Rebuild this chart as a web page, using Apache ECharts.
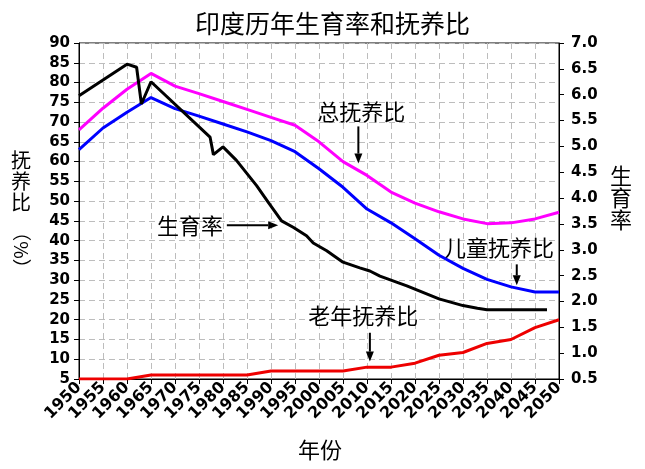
<!DOCTYPE html>
<html>
<head>
<meta charset="utf-8">
<script src="https://cdn.jsdelivr.net/npm/echarts@6/dist/echarts.min.js"></script>
<style>
html,body{margin:0;padding:0;background:#fff;}
#c{width:645px;height:469px;}
</style>
</head>
<body>
<div id="c"></div>
<script>
// ---- data ----
const years = [1950,1955,1960,1965,1970,1975,1980,1985,1990,1995,2000,2005,2010,2015,2020,2025,2030,2035,2040,2045,2050];
const totalDep = [68,73.5,78.3,82.3,79.1,77.2,75.2,73.2,71.2,69.2,65,60,56.5,52.3,49.5,47.3,45.5,44.3,44.5,45.5,47.2];
const childDep = [63,68.5,72.5,76.2,73.4,71.5,69.5,67.5,65.3,62.5,58.2,53.5,48,44.5,40.5,36.3,33,30.2,28.3,27,27];
const oldDep   = [5,5,5,6,6,6,6,6,7,7,7,7,8,8,9,11,11.7,14,15,18,20];
const fertYears  = [1950,1960,1962,1963,1965,1977.3,1978,1980,1982.8,1987,1989.4,1992.2,1994.7,1997.4,1998.8,2001.6,2005,2008.5,2010.6,2012.7,2018.3,2025,2030,2033,2035,2047.5];
const fertValues = [5.98,6.59,6.53,5.82,6.25,5.18,4.84,4.99,4.73,4.24,3.92,3.56,3.43,3.27,3.13,2.98,2.76,2.65,2.59,2.49,2.30,2.05,1.92,1.87,1.84,1.84];
const titleText = '印度历年生育率和抚养比';
const notes = [
  {text:'总抚养比',   pos:[2008.8,72.7], from:[2008.2,68.9], to:[2008.2,59.5]},
  {text:'生育率',     pos:[1973.1,43.9], from:[1980.8,43.9], to:[1991.5,43.9]},
  {text:'儿童抚养比', pos:[2037.5,38.3], from:[2041.2,34.0], to:[2041.2,28.7]},
  {text:'老年抚养比', pos:[2009.2,21.0], from:[2010.6,16.7], to:[2010.6,9.4]}
];

const pair = (xs, ys) => xs.map((x,i)=>[x, ys[i]]);
const numFont = {fontFamily:'DejaVu Sans', fontWeight:'bold', fontSize:15, color:'#000'};
const cjk = 'Noto Sans CJK SC';

const chart = echarts.init(document.getElementById('c'), null, {renderer:'canvas'});
const option = {
  animation:false,
  backgroundColor:'#fff',
  title:{text:titleText, left:190, top:6, textStyle:{fontFamily:cjk, fontWeight:'normal', fontSize:25, color:'#000'}},
  grid:{left:79, right:86, top:43, bottom:90, show:true, borderColor:'#000', borderWidth:1, backgroundColor:'transparent'},
  xAxis:{
    type:'value', min:1950, max:2050, interval:5,
    axisLine:{lineStyle:{color:'#000', width:1}},
    axisTick:{show:true, inside:false, length:5, lineStyle:{color:'#000'}},
    axisLabel:Object.assign({rotate:45, margin:6, formatter:v=>String(v)}, numFont, {fontSize:16}),
    splitLine:{show:true, lineStyle:{color:'#bdbdbd', type:[6,4], width:1}}
  },
  yAxis:[
    {type:'value', min:5, max:90, interval:5, position:'left',
     axisLine:{show:true, lineStyle:{color:'#000'}},
     axisTick:{show:true, length:5, lineStyle:{color:'#000'}},
     axisLabel:Object.assign({margin:9}, numFont),
     splitLine:{show:true, lineStyle:{color:'#bdbdbd', type:[6,4], width:1}}},
    {type:'value', min:0.5, max:7.0, interval:0.5, position:'right',
     axisLine:{show:true, lineStyle:{color:'#000'}},
     axisTick:{show:true, length:5, lineStyle:{color:'#000'}},
     axisLabel:Object.assign({margin:12, formatter:v=>v.toFixed(1)}, numFont),
     splitLine:{show:false}}
  ],
  series:[
    {name:'总抚养比', type:'line', yAxisIndex:0, data:pair(years,totalDep), showSymbol:false, symbol:'none', lineStyle:{color:'#FF00FF', width:3}, itemStyle:{color:'#FF00FF'}},
    {name:'儿童抚养比', type:'line', yAxisIndex:0, data:pair(years,childDep), showSymbol:false, symbol:'none', lineStyle:{color:'#0000FF', width:3}, itemStyle:{color:'#0000FF'}},
    {name:'老年抚养比', type:'line', yAxisIndex:0, data:pair(years,oldDep), showSymbol:false, symbol:'none', lineStyle:{color:'#EE0000', width:3}, itemStyle:{color:'#EE0000'}},
    {name:'生育率', type:'line', yAxisIndex:1, data:pair(fertYears,fertValues), showSymbol:false, symbol:'none', lineStyle:{color:'#000', width:3}, itemStyle:{color:'#000'}}
  ]
};
chart.setOption(option);

const px = p => chart.convertToPixel({xAxisIndex:0, yAxisIndex:0}, p);
const g = [];
notes.forEach(n=>{
  const c = px(n.pos), a = px(n.from), b = px(n.to);
  g.push({type:'text', x:c[0], y:c[1], style:{text:n.text, fontFamily:cjk, fontSize:22, fill:'#000', align:'center', verticalAlign:'middle'}});
  const dx=b[0]-a[0], dy=b[1]-a[1], L=Math.hypot(dx,dy), ux=dx/L, uy=dy/L;
  const hl=10, hw=4;
  const bx=b[0]-ux*hl, by=b[1]-uy*hl;
  g.push({type:'line', shape:{x1:a[0], y1:a[1], x2:bx, y2:by}, style:{stroke:'#000', lineWidth:2}});
  g.push({type:'polygon', shape:{points:[[b[0],b[1]],[bx-uy*hw,by+ux*hw],[bx+uy*hw,by-ux*hw]]}, style:{fill:'#000'}});
});
// axis names
g.push({type:'text', x:21, y:150, style:{text:'抚\n养\n比', fontFamily:cjk, fontSize:20, lineHeight:21, fill:'#000', align:'center', verticalAlign:'top'}});
g.push({type:'text', x:21, y:250, rotation:-Math.PI/2, style:{text:'（%）', fontFamily:cjk, fontSize:19, fill:'#000', align:'center', verticalAlign:'middle'}});
g.push({type:'text', x:621, y:165, style:{text:'生\n育\n率', fontFamily:cjk, fontSize:22, lineHeight:22, fill:'#000', align:'center', verticalAlign:'top'}});
g.push({type:'text', x:320, y:450, style:{text:'年份', fontFamily:cjk, fontSize:22, fill:'#000', align:'center', verticalAlign:'middle'}});
chart.setOption({graphic:g});
</script>
</body>
</html>
